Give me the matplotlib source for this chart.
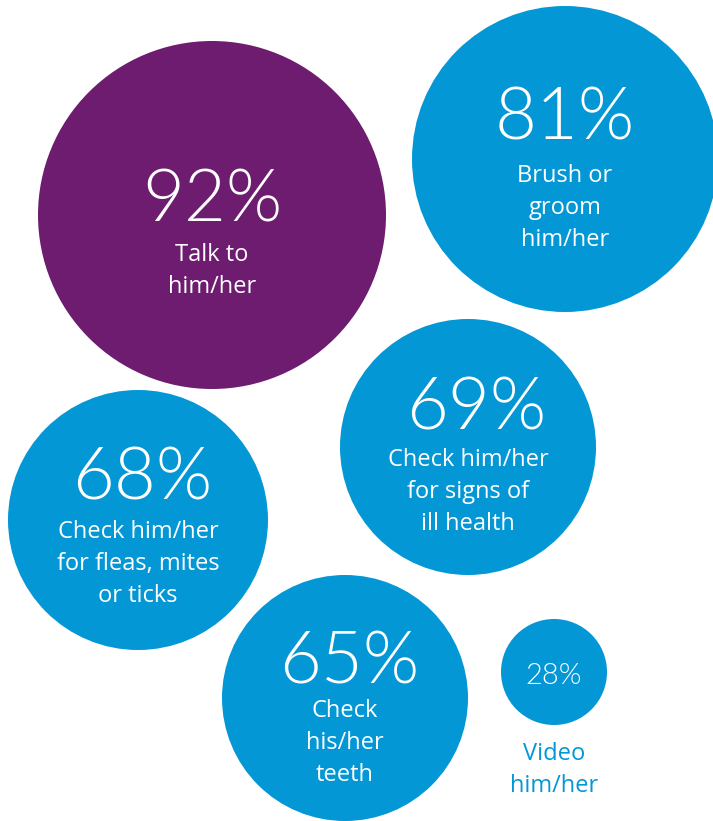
import matplotlib.pyplot as plt
from matplotlib.patches import Circle

# data
values = [92, 81, 69, 68, 65, 28]
labels = ["Talk to\nhim/her",
          "Brush or\ngroom\nhim/her",
          "Check him/her\nfor signs of\nill health",
          "Check him/her\nfor fleas, mites\nor ticks",
          "Check\nhis/her\nteeth",
          "Video\nhim/her"]

# layout (pixels, image coords)
cx = [212, 565, 468, 138, 345, 554]
cy = [215, 159, 447, 520, 698, 672]
rad = [174, 153, 128, 130, 123, 53]
num_y = [222, 139, 430, 500, 683, 684]
num_x = [212, 565, 476, 142, 349, 554]
lab_y = [261, 182, 466, 538, 717, 760]
num_size = [52, 52, 52, 52, 52, 21]
colors = ["#6d1c6f", "#0397d6", "#0397d6", "#0397d6", "#0397d6", "#0397d6"]

fig = plt.figure(figsize=(7.13, 8.21), dpi=100)
ax = fig.add_axes([0, 0, 1, 1])
ax.set_xlim(0, 713)
ax.set_ylim(821, 0)
ax.set_aspect("equal")
ax.axis("off")

for i in range(len(values)):
    ax.add_patch(Circle((cx[i], cy[i]), rad[i], color=colors[i], lw=0))
    ax.text(num_x[i], num_y[i], f"{values[i]}%", ha="center", va="baseline",
            fontsize=num_size[i], color="white", family="Lato", weight=300)
    lab_col = "white" if i < 5 else "#0397d6"
    for j, line in enumerate(labels[i].split("\n")):
        ax.text(cx[i], lab_y[i] + 32 * j, line, ha="center", va="baseline",
                fontsize=17, color=lab_col, family="Open Sans")

fig.savefig("out.png", dpi=100)
